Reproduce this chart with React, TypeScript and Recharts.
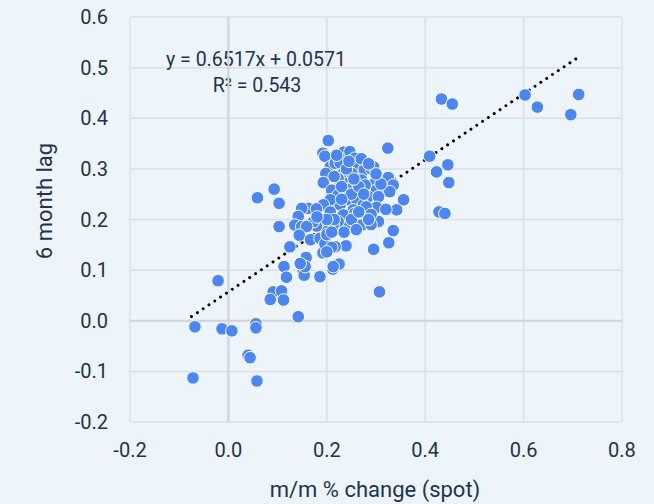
import React from 'react';
import {
  ScatterChart, Scatter, XAxis, YAxis, CartesianGrid, ReferenceLine, Customized
} from 'recharts';

// spot m/m % change (x) and value 6 months later (y)
const spotChange = [
  -0.072, -0.068, -0.021, -0.013, 0.007, 0.056, 0.056, 0.040, 0.044, 0.058,
  0.059, 0.093, 0.103, 0.091, 0.108, 0.112, 0.142, 0.085,
  0.103, 0.146, 0.125, 0.158, 0.113, 0.152, 0.154, 0.186, 0.118, 0.212,
  0.225, 0.239, 0.295, 0.207, 0.217, 0.192, 0.307,
  0.203, 0.324, 0.192, 0.196, 0.234, 0.247, 0.257, 0.207, 0.217, 0.227,
  0.198, 0.193, 0.234, 0.261, 0.276, 0.291, 0.295, 0.325, 0.335, 0.244,
  0.223, 0.271, 0.298, 0.271, 0.301, 0.315, 0.328, 0.210, 0.223, 0.247,
  0.261, 0.284, 0.305, 0.356, 0.342, 0.301, 0.274, 0.254, 0.227, 0.207,
  0.193, 0.207, 0.234, 0.257, 0.271, 0.244, 0.223, 0.213, 0.198, 0.186,
  0.179, 0.173, 0.162, 0.149, 0.142, 0.135, 0.149, 0.159, 0.144, 0.167,
  0.186, 0.196, 0.210, 0.200, 0.156, 0.146, 0.213, 0.326, 0.335, 0.305,
  0.278, 0.251, 0.220, 0.179,
  0.433, 0.455, 0.603, 0.628, 0.712, 0.696, 0.409, 0.446, 0.423, 0.448,
  0.428, 0.440,
  0.240, 0.250, 0.265, 0.230, 0.280, 0.290, 0.250, 0.215, 0.200, 0.200,
  0.235, 0.260, 0.290, 0.320, 0.310, 0.300, 0.240, 0.215, 0.270, 0.285,
  0.255, 0.275, 0.230, 0.285, 0.245, 0.265, 0.180, 0.210,
];
const lagValue = [
  -0.113, -0.012, 0.079, -0.016, -0.020, -0.006, -0.014, -0.068, -0.073, -0.119,
  0.243, 0.260, 0.232, 0.057, 0.059, 0.041, 0.008, 0.042,
  0.186, 0.171, 0.146, 0.125, 0.107, 0.097, 0.090, 0.087, 0.086, 0.102,
  0.112, 0.148, 0.141, 0.143, 0.146, 0.134, 0.057,
  0.356, 0.341, 0.331, 0.325, 0.333, 0.334, 0.321, 0.304, 0.311, 0.312,
  0.291, 0.273, 0.292, 0.303, 0.298, 0.299, 0.304, 0.283, 0.268, 0.272,
  0.281, 0.278, 0.272, 0.258, 0.258, 0.255, 0.255, 0.258, 0.248, 0.239,
  0.239, 0.245, 0.245, 0.239, 0.219, 0.224, 0.229, 0.219, 0.229, 0.239,
  0.229, 0.215, 0.209, 0.212, 0.189, 0.187, 0.196, 0.189, 0.183, 0.196,
  0.187, 0.196, 0.222, 0.222, 0.206, 0.189, 0.186, 0.186, 0.169, 0.160,
  0.163, 0.152, 0.145, 0.136, 0.107, 0.113, 0.107, 0.154, 0.178, 0.196,
  0.268, 0.291, 0.327, 0.221,
  0.438, 0.428, 0.446, 0.422, 0.447, 0.407, 0.325, 0.308, 0.294, 0.273,
  0.215, 0.212,
  0.260, 0.250, 0.265, 0.240, 0.225, 0.210, 0.200, 0.200, 0.200, 0.170,
  0.175, 0.180, 0.190, 0.220, 0.270, 0.290, 0.300, 0.285, 0.320, 0.310,
  0.280, 0.250, 0.265, 0.200, 0.315, 0.215, 0.205, 0.175,
];

const xTicks = [-0.2, 0, 0.2, 0.4, 0.6, 0.8];
const yTicks = [-0.2, -0.1, 0, 0.1, 0.2, 0.3, 0.4, 0.5, 0.6];

const slope = 0.6517;
const intercept = 0.0571;
const trendFrom = -0.075;
const trendTo = 0.71;

const points = spotChange.map((x, i) => ({ x, y: lagValue[i] }));

const BG = '#eef5fa';
const TEXT = '#1b3354';
const FONT = "Roboto, 'Liberation Sans', sans-serif";

const Dot = (props: any) => (
  <circle cx={props.cx} cy={props.cy} r={6.3} fill="#4a86f6" stroke="#ffffff" strokeWidth={1} />
);

const Labels = () => (
  <g fontFamily={FONT} fill={TEXT}>
    <text x={256} y={66} fontSize={19.5} textAnchor="middle">y = 0.6517x + 0.0571</text>
    <text x={257} y={92} fontSize={19.5} textAnchor="middle">R² = 0.543</text>
    <text x={375} y={497} fontSize={22} textAnchor="middle">m/m % change (spot)</text>
    <text x={52} y={201} fontSize={22} textAnchor="middle" transform="rotate(-90 52 201)">6 month lag</text>
  </g>
);

export default function App() {
  return (
    <div style={{ position: 'fixed', left: 0, top: 0, width: 654, height: 504, background: BG }}>
      <ScatterChart width={654} height={504} margin={{ top: 17, right: 32, left: 0, bottom: 0 }}>
        <CartesianGrid stroke="#dcdfe3" strokeWidth={1.5} horizontalValues={yTicks} verticalValues={xTicks} />
        <XAxis
          type="number"
          dataKey="x"
          domain={[-0.2, 0.8]}
          ticks={xTicks}
          height={82}
          axisLine={false}
          tickLine={false}
          tickSize={6}
          tickMargin={15}
          tickFormatter={(v: number) => v.toFixed(1)}
          tick={{ fill: TEXT, fontSize: 20, fontFamily: FONT }}
        />
        <YAxis
          type="number"
          dataKey="y"
          domain={[-0.2, 0.6]}
          ticks={yTicks}
          width={130}
          axisLine={false}
          tickLine={false}
          tickSize={6}
          tickMargin={16}
          tickFormatter={(v: number) => v.toFixed(1)}
          tick={{ fill: TEXT, fontSize: 20, fontFamily: FONT }}
        />
        <ReferenceLine x={0} stroke="#d0d4d9" strokeWidth={2} />
        <ReferenceLine y={0} stroke="#d0d4d9" strokeWidth={2} />
        <Scatter data={points} shape={Dot} isAnimationActive={false} />
        <ReferenceLine
          segment={[
            { x: trendFrom, y: slope * trendFrom + intercept },
            { x: trendTo, y: slope * trendTo + intercept },
          ]}
          stroke="#000000"
          strokeWidth={3}
          strokeLinecap="round"
          strokeDasharray="0.01 7"
          ifOverflow="visible"
        />
        <Customized component={Labels} />
      </ScatterChart>
    </div>
  );
}
